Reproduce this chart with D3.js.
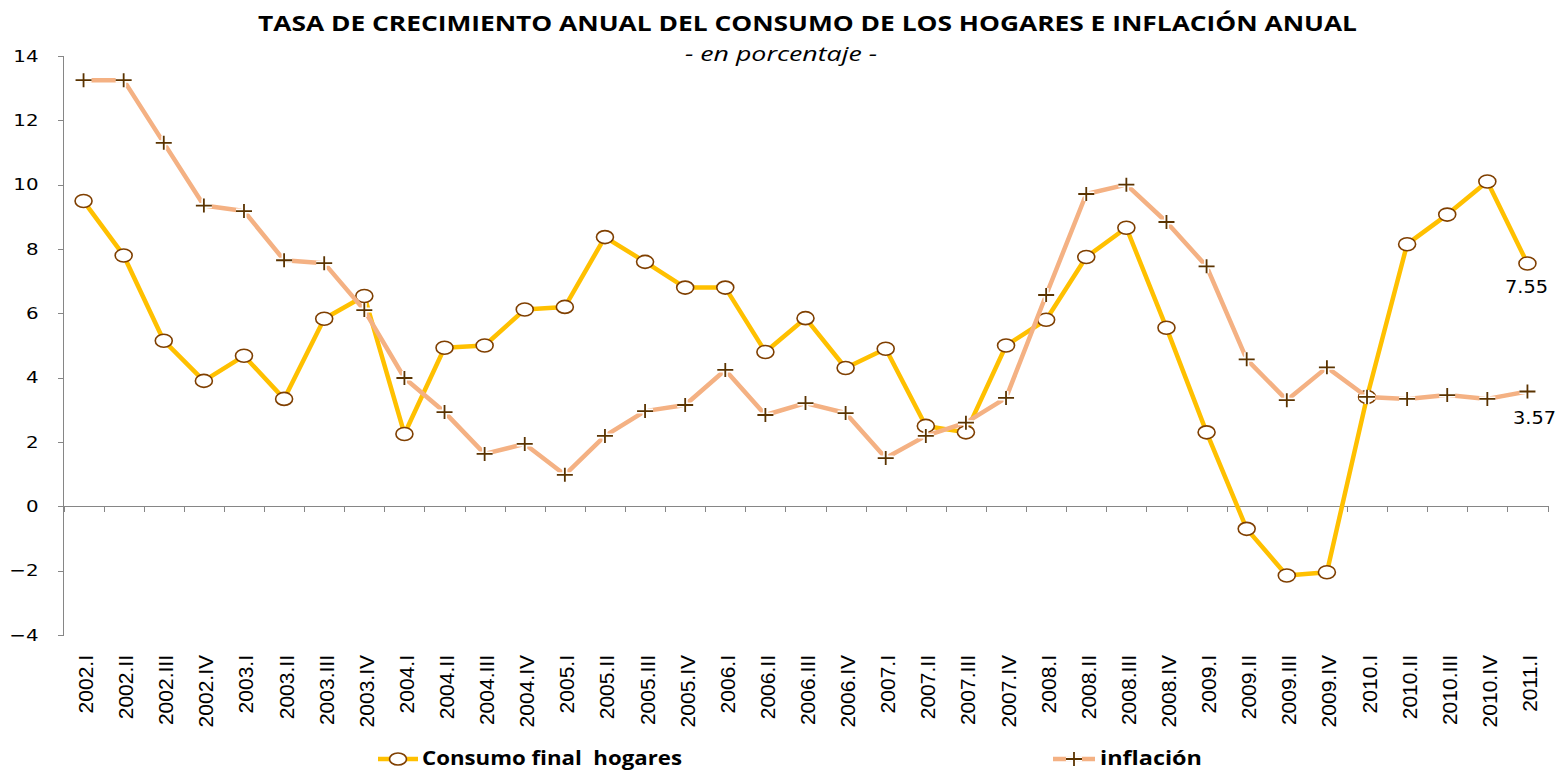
<html>
<head>
<meta charset="UTF-8"/>
<script src="https://d3js.org/d3.v7.min.js"></script>
<style>
body { margin:0; background:#fff; }
.axis path, .axis line { stroke:#868686; shape-rendering:crispEdges; }
</style>
</head>
<body>
<svg id='big' width=1560 height=771></svg>
<script>
'use strict';

var quarters = ['2002.I','2002.II','2002.III','2002.IV','2003.I','2003.II','2003.III','2003.IV',
	'2004.I','2004.II','2004.III','2004.IV','2005.I','2005.II','2005.III','2005.IV',
	'2006.I','2006.II','2006.III','2006.IV','2007.I','2007.II','2007.III','2007.IV',
	'2008.I','2008.II','2008.III','2008.IV','2009.I','2009.II','2009.III','2009.IV',
	'2010.I','2010.II','2010.III','2010.IV','2011.I'];

var consumo = [9.49,7.8,5.15,3.9,4.68,3.34,5.83,6.54,
	2.25,4.93,5.0,6.12,6.2,8.37,7.6,6.8,
	6.8,4.8,5.85,4.3,4.9,2.5,2.3,5.0,
	5.8,7.75,8.66,5.55,2.3,-0.7,-2.15,-2.05,
	3.4,8.15,9.07,10.1,7.55];

var inflacion = [13.25,13.25,11.3,9.35,9.18,7.65,7.56,6.1,
	3.99,2.93,1.63,1.94,0.98,2.19,2.96,3.15,
	4.24,2.84,3.21,2.9,1.5,2.19,2.6,3.37,
	6.57,9.71,10.0,8.84,7.46,4.57,3.3,4.32,
	3.4,3.34,3.46,3.34,3.57];

var yTicks = [-4,-2,0,2,4,6,8,10,12,14];

var svg = d3.select('#big');

var sx = d3.scaleBand().domain(quarters).range([63.5,1547.5]);
var sy = d3.scaleLinear().domain([-4,14]).range([635,56]);
var cx = function(i){ return sx(quarters[i]) + sx.bandwidth()/2; };

// title
svg.append('text')
.attr('x', 807.5).attr('y', 31)
.attr('text-anchor','middle')
.attr('font-family','Open Sans')
.attr('font-weight','bold')
.attr('font-size', 20.5)
.attr('textLength', 1099).attr('lengthAdjust','spacingAndGlyphs')
.text('TASA DE CRECIMIENTO  ANUAL DEL CONSUMO DE LOS HOGARES E INFLACIÓN ANUAL');

svg.append('text')
.attr('x', 781).attr('y', 61)
.attr('text-anchor','middle')
.attr('font-family','Open Sans')
.attr('font-style','italic')
.attr('font-size', 19.5)
.attr('textLength', 192).attr('lengthAdjust','spacingAndGlyphs')
.text('- en porcentaje -');

// y axis
var yAxis = d3.axisLeft(sy).tickValues(yTicks).tickSize(6).tickFormat(d3.format('d'));
var gy = svg.append('g').attr('class','axis').attr('transform','translate(63.5,0)').call(yAxis);
gy.selectAll('text')
.attr('font-family','DejaVu Sans').attr('font-size',16.5).attr('fill','#000')
.attr('x', -25/1.2)
.attr('transform','scale(1.2,1)');
gy.select('.domain').attr('d','M0,635V56');

// x axis at zero
var gx = svg.append('g').attr('class','axis').attr('transform','translate(0,' + sy(0) + ')');
gx.append('line').attr('x1',63.5).attr('x2',1547.5).attr('y1',0).attr('y2',0);
gx.selectAll('.tk').data(d3.range(quarters.length + 1)).enter()
.append('line')
.attr('class','tk')
.attr('x1', function(d){ return Math.round(63.5 + d*sx.step()) + 0.5; })
.attr('x2', function(d){ return Math.round(63.5 + d*sx.step()) + 0.5; })
.attr('y1', 0).attr('y2', 6);

// category labels, rotated, below the plot
svg.selectAll('.xl').data(quarters).enter()
.append('text')
.attr('class','xl')
.attr('transform', function(d,i){ return 'translate(' + (cx(i)+9.5) + ',655) rotate(-90)'; })
.attr('text-anchor','end')
.attr('font-family','Liberation Sans Narrow, Liberation Sans')
.attr('font-size', 21)
.text(function(d){ return d; });

var line = d3.line()
.x(function(d,i){ return cx(i); })
.y(function(d){ return sy(d); });

// consumo
svg.append('path')
.datum(consumo)
.attr('d', line)
.attr('fill','none')
.attr('stroke','#FFC000')
.attr('stroke-width',4.5)
.attr('stroke-linejoin','round');

svg.selectAll('.mc').data(consumo).enter()
.append('ellipse')
.attr('class','mc')
.attr('cx', function(d,i){ return cx(i); })
.attr('cy', function(d){ return sy(d); })
.attr('rx', 8.5).attr('ry', 6.5)
.attr('fill','#fff')
.attr('stroke','#7F3F00')
.attr('stroke-width',1.6);

// inflacion
svg.append('path')
.datum(inflacion)
.attr('d', line)
.attr('fill','none')
.attr('stroke','#F4B183')
.attr('stroke-width',4.5)
.attr('stroke-linejoin','round');

function plus(sel, stroke, w){
	sel.append('path')
	.attr('d', 'M-8,0H8M0,-7V7')
	.attr('stroke', stroke)
	.attr('stroke-width', w)
	.attr('fill','none');
}

var mi = svg.selectAll('.mi').data(inflacion).enter()
.append('g')
.attr('class','mi')
.attr('transform', function(d,i){ return 'translate(' + cx(i) + ',' + sy(d) + ')'; });
plus(mi, '#fff', 5);
plus(mi, '#5A3300', 1.8);

// end labels
svg.append('text')
.attr('x', 1505).attr('y', sy(7.55) + 30)
.attr('font-family','DejaVu Sans').attr('font-size',17.5)
.attr('textLength', 43).attr('lengthAdjust','spacingAndGlyphs')
.text(consumo[36].toFixed(2));
svg.append('text')
.attr('x', 1513).attr('y', sy(3.57) + 33)
.attr('font-family','DejaVu Sans').attr('font-size',17.5)
.attr('textLength', 43).attr('lengthAdjust','spacingAndGlyphs')
.text(inflacion[36].toFixed(2));

// legend
var leg1 = svg.append('g').attr('transform','translate(378,759)');
leg1.append('line').attr('x1',0).attr('x2',40).attr('stroke','#FFC000').attr('stroke-width',4.5);
leg1.append('ellipse').attr('cx',20).attr('rx',8.5).attr('ry',6).attr('fill','#fff').attr('stroke','#7F3F00').attr('stroke-width',1.6);
leg1.append('text').attr('x',44).attr('y',6).attr('font-family','Open Sans').attr('font-weight','bold').attr('font-size',20)
.attr('textLength', 260).attr('lengthAdjust','spacingAndGlyphs')
.style('white-space','pre')
.text('Consumo final  hogares');

var leg2 = svg.append('g').attr('transform','translate(1053,759)');
leg2.append('line').attr('x1',0).attr('x2',42).attr('stroke','#F4B183').attr('stroke-width',4.5);
var lp = leg2.append('g').attr('transform','translate(21,0)');
plus(lp, '#fff', 5);
plus(lp, '#5A3300', 1.8);
leg2.append('text').attr('x',47).attr('y',6).attr('font-family','Open Sans').attr('font-weight','bold').attr('font-size',20)
.attr('textLength', 102).attr('lengthAdjust','spacingAndGlyphs')
.text('inflación');
</script>
</body>
</html>
